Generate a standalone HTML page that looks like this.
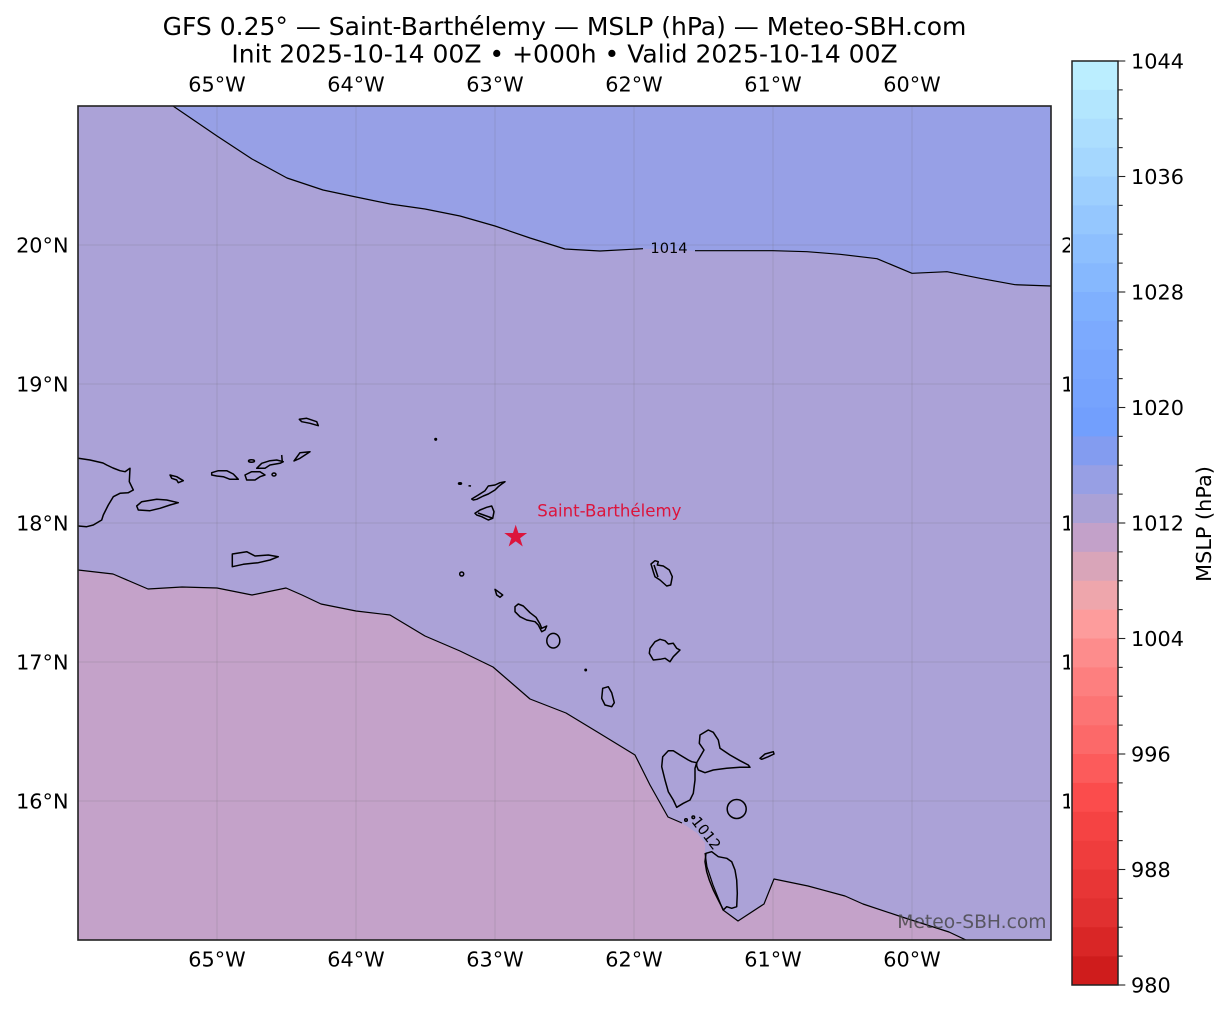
<!DOCTYPE html>
<html><head><meta charset="utf-8"><style>
html,body{margin:0;padding:0;background:#fff;}
svg{display:block;}
text{font-family:"DejaVu Sans","Liberation Sans",sans-serif;}
</style></head><body>
<svg width="1229" height="1012" viewBox="0 0 1229 1012" xmlns="http://www.w3.org/2000/svg">
<defs><clipPath id="mc"><rect x="78" y="106" width="973" height="834"/></clipPath></defs>
<rect width="1229" height="1012" fill="#fff"/>
<text x="564.5" y="35" font-size="25" text-anchor="middle" fill="#000">GFS 0.25° — Saint-Barthélemy — MSLP (hPa) — Meteo-SBH.com</text>
<text x="564.5" y="62.5" font-size="25" text-anchor="middle" fill="#000">Init 2025-10-14 00Z • +000h • Valid 2025-10-14 00Z</text>
<g clip-path="url(#mc)">
<rect x="78" y="106" width="973" height="834" fill="#aba2d7"/>
<path d="M173,106 L217,136 L252,159 L287,178 L323,190 L356,197 L390,204 L425,209 L460,216 L495,226 L530,238 L565,249 L600,251 L643,248.7 L669,249.5 L695,250.7 L773,250.7 L807,251.7 L840,254.3 L877,258.7 L912,273.3 L947,271.7 L980,278.3 L1015,284.7 L1051,286 L1051,106 Z" fill="#97a0e6"/>
<path d="M78,570 L113,574 L148,589 L182,587 L217,588 L252,595 L286,588 L302,595 L321,604 L356,611 L390,615 L410,627 L425,636 L460,651 L493,667 L530,699 L566,713 L599,733 L635,755 L650,785 L668,817 L682,823 L697,833 L705,843 L705,853 L707,867 L713,885 L723,910 L738,921 L764,904 L774,879 L808,886 L845,896 L863,904 L902,917 L949,932 L966,940 L78,940 Z" fill="#c4a2c9"/>
<g stroke="#6a6a6a" stroke-opacity="0.16" stroke-width="1.2">
<line x1="217" y1="106" x2="217" y2="940"/><line x1="356" y1="106" x2="356" y2="940"/><line x1="495" y1="106" x2="495" y2="940"/><line x1="634" y1="106" x2="634" y2="940"/><line x1="773" y1="106" x2="773" y2="940"/><line x1="912" y1="106" x2="912" y2="940"/>
<line x1="78" y1="245" x2="1051" y2="245"/><line x1="78" y1="384" x2="1051" y2="384"/><line x1="78" y1="523" x2="1051" y2="523"/><line x1="78" y1="662" x2="1051" y2="662"/><line x1="78" y1="801" x2="1051" y2="801"/>
</g>
<g fill="none" stroke="#000" stroke-width="1.2" stroke-linejoin="round">
<polyline points="173,106 217,136 252,159 287,178 323,190 356,197 390,204 425,209 460,216 495,226 530,238 565,249 600,251 643,248.7"/>
<polyline points="695,250.7 773,250.7 807,251.7 840,254.3 877,258.7 912,273.3 947,271.7 980,278.3 1015,284.7 1051,286"/>
<polyline points="78,570 113,574 148,589 182,587 217,588 252,595 286,588 302,595 321,604 356,611 390,615 410,627 425,636 460,651 493,667 530,699 566,713 599,733 635,755 650,785 668,817 682,823"/>
<polyline points="705,853 707,867 713,885 723,910 738,921 764,904 774,879 808,886 845,896 863,904 902,917 949,932 966,940"/>
</g>
<g fill="none" stroke="#000" stroke-width="1.5" stroke-linejoin="round">
<polyline points="70,458 78.3,458.3 90,460 103,463 106.7,465 113,468 120,470.7 125,471.7 130,468.3 129.3,481.7 133.3,490 128.3,492.7 120,493.3 113.3,496.7 108.3,505 103.3,515 101.7,520 93.3,525 86.7,526.7 78.3,526 70,526"/>
<polygon points="136.7,506 141.7,501.7 156.7,499.3 166.7,500 178.3,502.7 170,505 160,508.3 150,510.7 138.3,510"/>
<polygon points="170,475 176.7,476.7 183.3,480.7 178.3,482.7 176.7,480 171.7,478.3"/>
<polygon points="211.7,472.7 218.3,470.7 226.7,470.7 233.3,474 238.3,479.3 230,479.3 223.3,476.7 216.7,476 211.7,475"/>
<polygon points="245,475 251.7,471.7 260,471.7 265,475 260,476.7 255,480 246.7,480"/>
<polygon points="256.7,468.3 261.7,463.3 270,460.7 276.7,460 283.3,461.7 280,463.3 270,465 265,468.3"/>
<ellipse cx="251.5" cy="461" rx="3" ry="1.2"/>
<line x1="281.7" y1="455" x2="282.3" y2="462"/>
<ellipse cx="274" cy="474.5" rx="2" ry="1.5"/>
<polygon points="294,461 300,452.7 310,451.7 305,455 300,458.3"/>
<polygon points="299.3,419.3 306.7,418.3 316.7,421.7 318.3,425.7 310,423.3 301.7,421.7"/>
<polygon points="232.3,554 246.7,551.7 255,556 268.3,555 278.3,556.7 270,560 258.3,562.7 243.3,564.3 232.3,566.7"/>
<circle cx="435.7" cy="439.3" r="0.8"/>
<ellipse cx="460" cy="483.5" rx="1.5" ry="0.8"/>
<line x1="468.5" y1="485.7" x2="471" y2="486"/>
<polygon points="471.7,499 478.3,495 485,490.7 488.3,486 495,485 500,482.7 505,481.7 501.7,484 498.3,486.7 495,490 488.3,494 483.3,496 476.7,499.3 473.3,500"/>
<polygon points="475,513.3 480,510 486.7,507.3 491.7,506 494,511.7 492.7,518.3 488.3,520 481.7,516.7 476.7,515"/>
<line x1="478" y1="513" x2="492" y2="518"/>
<circle cx="461.7" cy="574" r="2"/>
<polygon points="495,589.3 498.3,591.7 502.7,595 500,597.3 496.7,595"/>
<polygon points="515,606.7 518.3,604 523.3,606 530,612.7 536,617.3 540,624 541.7,628.3 546.7,626 545,630 541.7,631.7 538.3,625 535,621.7 526.7,620 520,616.7 515,611.7"/>
<ellipse cx="553.3" cy="640.7" rx="6.5" ry="7.3"/>
<circle cx="585.7" cy="670" r="0.7"/>
<polygon points="602.7,688.3 608.3,686.7 611.7,692.7 614.3,702.7 611.7,706.7 605,705 601.7,698.3"/>
<polygon points="651,564 655,560.7 658.3,561.7 657.3,565 663.3,566 669.3,570 672.3,576.7 670.7,585 666.7,586 660,580 655,576.7 653.3,571.7"/>
<line x1="654" y1="565" x2="658" y2="577"/>
<polygon points="650,648.3 655,641.7 660,639.3 665,640.7 668.3,644 673.3,643.3 676.7,648.3 680,650 676.7,653.3 673.3,656.7 670,661.7 665,658.3 660,659.3 653.3,660 649.3,653.3"/>
<polygon points="662.7,756.7 668.3,750.7 673.3,750.7 680,755 688.3,760 691.7,761.7 696.7,762.7 695,768.3 695,780 693.3,793.3 690,800 683.3,803.3 676.7,807.3 673.3,800 668.3,791.7 665,780 661.7,766.7"/>
<polygon points="696.7,762.7 704,750 699.3,743.3 700,735 708.3,730 713.3,732.3 718.3,740 720,748.3 730,755 740,760.7 748.3,765 750,767.3 740,767.3 726.7,768.3 713.3,770 705,772.7 698.3,770 696.7,766"/>
<polygon points="760,758.3 765,754 773.3,751.7 774,754 768.3,756.7 761.7,759.3"/>
<ellipse cx="736.7" cy="809" rx="9.5" ry="9.5"/>
<circle cx="686" cy="820" r="1.3"/>
<circle cx="693.3" cy="817.3" r="1.3"/>
<polygon points="706,853.3 711.7,851.7 718.3,856.7 726.7,858.3 731.7,861.7 735,870 736.7,880 737.3,893.3 736.7,906.7 731.7,908.3 726.7,906.7 723.3,910 721.7,906.7 718.3,900 713.3,890 709.3,880 706.7,871.7 705,861.7"/>
</g>
<text x="669" y="253.2" font-size="14.6" text-anchor="middle" fill="#000">1014</text>
<text transform="translate(706.5,833) rotate(52)" y="5.3" font-size="14.6" text-anchor="middle" fill="#000">1012</text>
<polygon transform="translate(515.7,536.7)" points="0,-10.7 2.4,-3.3 10.2,-3.3 3.9,1.3 6.3,8.7 0,4.1 -6.3,8.7 -3.9,1.3 -10.2,-3.3 -2.4,-3.3" fill="#dc143c" stroke="#dc143c" stroke-width="0.8"/>
<text x="537.3" y="516.5" font-size="16.6" fill="#dc143c">Saint-Barthélemy</text>
<text x="1046.5" y="928" font-size="18.7" text-anchor="end" fill="#444" fill-opacity="0.8">Meteo-SBH.com</text>
</g>
<rect x="78" y="106" width="973" height="834" fill="none" stroke="#222" stroke-width="1.6"/>
<g font-size="20.8" fill="#000" text-anchor="middle">
<text x="217" y="91.7">65°W</text><text x="356" y="91.7">64°W</text><text x="495" y="91.7">63°W</text><text x="634" y="91.7">62°W</text><text x="773" y="91.7">61°W</text><text x="912" y="91.7">60°W</text>
<text x="217" y="966.5">65°W</text><text x="356" y="966.5">64°W</text><text x="495" y="966.5">63°W</text><text x="634" y="966.5">62°W</text><text x="773" y="966.5">61°W</text><text x="912" y="966.5">60°W</text>
</g>
<g font-size="20.8" fill="#000" text-anchor="end">
<text x="68.5" y="252.6">20°N</text><text x="68.5" y="391.6">19°N</text><text x="68.5" y="530.6">18°N</text><text x="68.5" y="669.6">17°N</text><text x="68.5" y="808.6">16°N</text>
</g>
<g font-size="20.8" fill="#000">
<text x="1061" y="252.6">20°N</text><text x="1061" y="391.6">19°N</text><text x="1061" y="530.6">18°N</text><text x="1061" y="669.6">17°N</text><text x="1061" y="808.6">16°N</text>
</g>
<rect x="1070" y="55" width="50" height="936" fill="#fff"/>
<g>
<rect x="1072" y="61" width="46" height="29.2" fill="#bbeeff"/>
<rect x="1072" y="89.875" width="46" height="29.2" fill="#b3e6fe"/>
<rect x="1072" y="118.75" width="46" height="29.2" fill="#acdefe"/>
<rect x="1072" y="147.625" width="46" height="29.2" fill="#a5d7fe"/>
<rect x="1072" y="176.5" width="46" height="29.2" fill="#9dcffe"/>
<rect x="1072" y="205.375" width="46" height="29.2" fill="#95c7fe"/>
<rect x="1072" y="234.25" width="46" height="29.2" fill="#8dbffe"/>
<rect x="1072" y="263.125" width="46" height="29.2" fill="#86b8fe"/>
<rect x="1072" y="292" width="46" height="29.2" fill="#7fb0fe"/>
<rect x="1072" y="320.875" width="46" height="29.2" fill="#7caafe"/>
<rect x="1072" y="349.75" width="46" height="29.2" fill="#79a6fd"/>
<rect x="1072" y="378.625" width="46" height="29.2" fill="#76a3fd"/>
<rect x="1072" y="407.5" width="46" height="29.2" fill="#729ffd"/>
<rect x="1072" y="436.375" width="46" height="29.2" fill="#839cf0"/>
<rect x="1072" y="465.25" width="46" height="29.2" fill="#979fe4"/>
<rect x="1072" y="494.125" width="46" height="29.2" fill="#aaa1d6"/>
<rect x="1072" y="523" width="46" height="29.2" fill="#c3a1c9"/>
<rect x="1072" y="551.875" width="46" height="29.2" fill="#d9a5b9"/>
<rect x="1072" y="580.75" width="46" height="29.2" fill="#eea6ac"/>
<rect x="1072" y="609.625" width="46" height="29.2" fill="#fd9c9c"/>
<rect x="1072" y="638.5" width="46" height="29.2" fill="#fd8c8c"/>
<rect x="1072" y="667.375" width="46" height="29.2" fill="#fd7f7f"/>
<rect x="1072" y="696.25" width="46" height="29.2" fill="#fc7474"/>
<rect x="1072" y="725.125" width="46" height="29.2" fill="#fc6969"/>
<rect x="1072" y="754" width="46" height="29.2" fill="#fc5b5b"/>
<rect x="1072" y="782.875" width="46" height="29.2" fill="#fb4c4c"/>
<rect x="1072" y="811.75" width="46" height="29.2" fill="#f54343"/>
<rect x="1072" y="840.625" width="46" height="29.2" fill="#ef3d3d"/>
<rect x="1072" y="869.5" width="46" height="29.2" fill="#e83636"/>
<rect x="1072" y="898.375" width="46" height="29.2" fill="#e13030"/>
<rect x="1072" y="927.25" width="46" height="29.2" fill="#d92626"/>
<rect x="1072" y="956.125" width="46" height="28.875" fill="#cf1c1c"/>
</g>
<rect x="1072" y="61" width="46" height="924" fill="none" stroke="#222" stroke-width="1.5"/>
<g stroke="#222" stroke-width="1.1">
<line x1="1118" y1="61" x2="1125.3" y2="61"/><line x1="1118" y1="89.875" x2="1122.7" y2="89.875"/><line x1="1118" y1="118.75" x2="1122.7" y2="118.75"/><line x1="1118" y1="147.625" x2="1122.7" y2="147.625"/>
<line x1="1118" y1="176.5" x2="1125.3" y2="176.5"/><line x1="1118" y1="205.375" x2="1122.7" y2="205.375"/><line x1="1118" y1="234.25" x2="1122.7" y2="234.25"/><line x1="1118" y1="263.125" x2="1122.7" y2="263.125"/>
<line x1="1118" y1="292" x2="1125.3" y2="292"/><line x1="1118" y1="320.875" x2="1122.7" y2="320.875"/><line x1="1118" y1="349.75" x2="1122.7" y2="349.75"/><line x1="1118" y1="378.625" x2="1122.7" y2="378.625"/>
<line x1="1118" y1="407.5" x2="1125.3" y2="407.5"/><line x1="1118" y1="436.375" x2="1122.7" y2="436.375"/><line x1="1118" y1="465.25" x2="1122.7" y2="465.25"/><line x1="1118" y1="494.125" x2="1122.7" y2="494.125"/>
<line x1="1118" y1="523" x2="1125.3" y2="523"/><line x1="1118" y1="551.875" x2="1122.7" y2="551.875"/><line x1="1118" y1="580.75" x2="1122.7" y2="580.75"/><line x1="1118" y1="609.625" x2="1122.7" y2="609.625"/>
<line x1="1118" y1="638.5" x2="1125.3" y2="638.5"/><line x1="1118" y1="667.375" x2="1122.7" y2="667.375"/><line x1="1118" y1="696.25" x2="1122.7" y2="696.25"/><line x1="1118" y1="725.125" x2="1122.7" y2="725.125"/>
<line x1="1118" y1="754" x2="1125.3" y2="754"/><line x1="1118" y1="782.875" x2="1122.7" y2="782.875"/><line x1="1118" y1="811.75" x2="1122.7" y2="811.75"/><line x1="1118" y1="840.625" x2="1122.7" y2="840.625"/>
<line x1="1118" y1="869.5" x2="1125.3" y2="869.5"/><line x1="1118" y1="898.375" x2="1122.7" y2="898.375"/><line x1="1118" y1="927.25" x2="1122.7" y2="927.25"/><line x1="1118" y1="956.125" x2="1122.7" y2="956.125"/>
<line x1="1118" y1="985" x2="1125.3" y2="985"/>
</g>
<g font-size="20.8" fill="#000">
<text x="1131" y="68.6">1044</text><text x="1131" y="184.1">1036</text><text x="1131" y="299.6">1028</text><text x="1131" y="415.1">1020</text><text x="1131" y="530.6">1012</text><text x="1131" y="646.1">1004</text><text x="1131" y="761.6">996</text><text x="1131" y="877.1">988</text><text x="1131" y="992.6">980</text>
</g>
<text transform="translate(1211,524) rotate(-90)" font-size="20.8" text-anchor="middle" fill="#000">MSLP (hPa)</text>
</svg>
</body></html>
